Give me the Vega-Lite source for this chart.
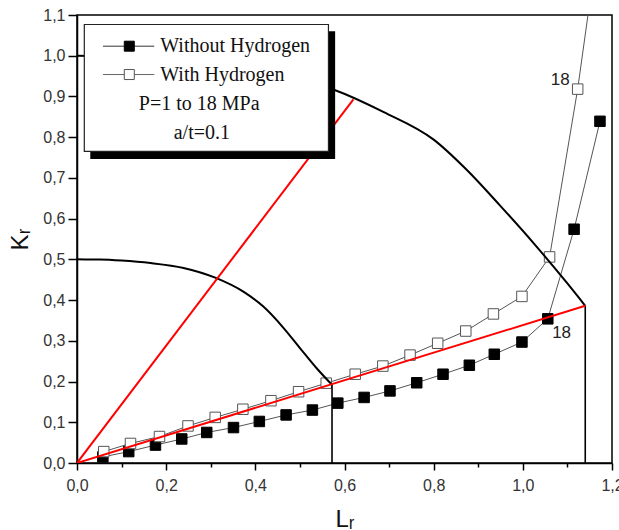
{
  "$schema": "https://vega.github.io/schema/vega-lite/v6.json",
  "autosize": {"type": "none"},
  "width": 535,
  "height": 448,
  "padding": {"left": 77, "top": 15, "right": 7, "bottom": 67},
  "background": "#ffffff",
  "config": {
    "view": {"stroke": "#000000", "strokeWidth": 1.5},
    "axis": {
      "grid": false,
      "domainColor": "#000000",
      "domainWidth": 1.5,
      "tickColor": "#000000",
      "tickWidth": 1.5,
      "labelColor": "#333333",
      "labelFont": "Liberation Sans",
      "labelFontSize": 16,
      "titleFont": "Liberation Sans",
      "titleFontSize": 24,
      "titleFontWeight": "normal",
      "titleColor": "#111111"
    }
  },
  "datasets": {
    "pts": [
      {"series": "Without Hydrogen", "P": 1, "Lr": 0.058, "Kr": 0.015},
      {"series": "Without Hydrogen", "P": 2, "Lr": 0.116, "Kr": 0.028},
      {"series": "Without Hydrogen", "P": 3, "Lr": 0.176, "Kr": 0.044},
      {"series": "Without Hydrogen", "P": 4, "Lr": 0.235, "Kr": 0.059},
      {"series": "Without Hydrogen", "P": 5, "Lr": 0.291, "Kr": 0.075},
      {"series": "Without Hydrogen", "P": 6, "Lr": 0.351, "Kr": 0.087},
      {"series": "Without Hydrogen", "P": 7, "Lr": 0.409, "Kr": 0.102},
      {"series": "Without Hydrogen", "P": 8, "Lr": 0.469, "Kr": 0.118},
      {"series": "Without Hydrogen", "P": 9, "Lr": 0.528, "Kr": 0.130},
      {"series": "Without Hydrogen", "P": 10, "Lr": 0.585, "Kr": 0.147},
      {"series": "Without Hydrogen", "P": 11, "Lr": 0.644, "Kr": 0.161},
      {"series": "Without Hydrogen", "P": 12, "Lr": 0.702, "Kr": 0.177},
      {"series": "Without Hydrogen", "P": 13, "Lr": 0.762, "Kr": 0.197},
      {"series": "Without Hydrogen", "P": 14, "Lr": 0.821, "Kr": 0.218},
      {"series": "Without Hydrogen", "P": 15, "Lr": 0.880, "Kr": 0.240},
      {"series": "Without Hydrogen", "P": 16, "Lr": 0.936, "Kr": 0.267},
      {"series": "Without Hydrogen", "P": 17, "Lr": 0.998, "Kr": 0.297},
      {"series": "Without Hydrogen", "P": 18, "Lr": 1.056, "Kr": 0.354},
      {"series": "Without Hydrogen", "P": 19, "Lr": 1.115, "Kr": 0.574},
      {"series": "Without Hydrogen", "P": 20, "Lr": 1.173, "Kr": 0.839},
      {"series": "With Hydrogen", "P": 1, "Lr": 0.060, "Kr": 0.028},
      {"series": "With Hydrogen", "P": 2, "Lr": 0.120, "Kr": 0.048},
      {"series": "With Hydrogen", "P": 3, "Lr": 0.185, "Kr": 0.065},
      {"series": "With Hydrogen", "P": 4, "Lr": 0.249, "Kr": 0.091},
      {"series": "With Hydrogen", "P": 5, "Lr": 0.310, "Kr": 0.112},
      {"series": "With Hydrogen", "P": 6, "Lr": 0.372, "Kr": 0.132},
      {"series": "With Hydrogen", "P": 7, "Lr": 0.435, "Kr": 0.153},
      {"series": "With Hydrogen", "P": 8, "Lr": 0.497, "Kr": 0.175},
      {"series": "With Hydrogen", "P": 9, "Lr": 0.559, "Kr": 0.196},
      {"series": "With Hydrogen", "P": 10, "Lr": 0.624, "Kr": 0.218},
      {"series": "With Hydrogen", "P": 11, "Lr": 0.686, "Kr": 0.238},
      {"series": "With Hydrogen", "P": 12, "Lr": 0.747, "Kr": 0.265},
      {"series": "With Hydrogen", "P": 13, "Lr": 0.809, "Kr": 0.294},
      {"series": "With Hydrogen", "P": 14, "Lr": 0.872, "Kr": 0.324},
      {"series": "With Hydrogen", "P": 15, "Lr": 0.934, "Kr": 0.366},
      {"series": "With Hydrogen", "P": 16, "Lr": 0.998, "Kr": 0.409},
      {"series": "With Hydrogen", "P": 17, "Lr": 1.060, "Kr": 0.506},
      {"series": "With Hydrogen", "P": 18, "Lr": 1.123, "Kr": 0.918},
      {"series": "With Hydrogen", "P": 19, "Lr": 1.185, "Kr": 1.406}
    ],
    "curves": [
      {"curve": "outer", "ord": 0, "Lr": 0.0, "Kr": 1.0},
      {"curve": "outer", "ord": 1, "Lr": 0.1, "Kr": 0.997},
      {"curve": "outer", "ord": 2, "Lr": 0.2, "Kr": 0.99},
      {"curve": "outer", "ord": 3, "Lr": 0.3, "Kr": 0.978},
      {"curve": "outer", "ord": 4, "Lr": 0.4, "Kr": 0.963},
      {"curve": "outer", "ord": 5, "Lr": 0.5, "Kr": 0.943},
      {"curve": "outer", "ord": 6, "Lr": 0.575, "Kr": 0.917},
      {"curve": "outer", "ord": 7, "Lr": 0.687, "Kr": 0.862},
      {"curve": "outer", "ord": 8, "Lr": 0.8, "Kr": 0.794},
      {"curve": "outer", "ord": 9, "Lr": 0.874, "Kr": 0.72},
      {"curve": "outer", "ord": 10, "Lr": 0.949, "Kr": 0.632},
      {"curve": "outer", "ord": 11, "Lr": 1.024, "Kr": 0.54},
      {"curve": "outer", "ord": 12, "Lr": 1.099, "Kr": 0.442},
      {"curve": "outer", "ord": 13, "Lr": 1.14, "Kr": 0.386},
      {"curve": "inner", "ord": 0, "Lr": 0.0, "Kr": 0.5},
      {"curve": "inner", "ord": 1, "Lr": 0.05, "Kr": 0.4995},
      {"curve": "inner", "ord": 2, "Lr": 0.1, "Kr": 0.497},
      {"curve": "inner", "ord": 3, "Lr": 0.165, "Kr": 0.491},
      {"curve": "inner", "ord": 4, "Lr": 0.239, "Kr": 0.479},
      {"curve": "inner", "ord": 5, "Lr": 0.31, "Kr": 0.455},
      {"curve": "inner", "ord": 6, "Lr": 0.374, "Kr": 0.42},
      {"curve": "inner", "ord": 7, "Lr": 0.418, "Kr": 0.384},
      {"curve": "inner", "ord": 8, "Lr": 0.463, "Kr": 0.332},
      {"curve": "inner", "ord": 9, "Lr": 0.501, "Kr": 0.281},
      {"curve": "inner", "ord": 10, "Lr": 0.538, "Kr": 0.232},
      {"curve": "inner", "ord": 11, "Lr": 0.572, "Kr": 0.192}
    ],
    "cuts": [
      {"Lr": 0.572, "Kr": 0.192},
      {"Lr": 1.14, "Kr": 0.386}
    ],
    "reds": [
      {"line": "steep", "Lr": 0.0, "Kr": 0.0},
      {"line": "steep", "Lr": 0.62, "Kr": 0.893},
      {"line": "shallow", "Lr": 0.0, "Kr": 0.0},
      {"line": "shallow", "Lr": 1.14, "Kr": 0.386}
    ],
    "labels": [
      {"label": "18", "Lr": 1.087, "Kr": 0.319},
      {"label": "18", "Lr": 1.084, "Kr": 0.94}
    ],
    "one": [{"k": 1}]
  },
  "layer": [
    {
      "data": {"name": "pts"},
      "mark": {"type": "line", "stroke": "#555555", "strokeWidth": 1, "clip": true},
      "encoding": {
        "x": {
          "field": "Lr",
          "type": "quantitative",
          "scale": {"domain": [0, 1.2], "nice": false, "zero": false},
          "axis": {
            "title": "Lᵣ",
            "titlePadding": 14,
            "values": [0, 0.1, 0.2, 0.3, 0.4, 0.5, 0.6, 0.7, 0.8, 0.9, 1.0, 1.1, 1.2],
            "labelExpr": "abs(datum.value*5 - round(datum.value*5)) < 0.001 ? replace(format(datum.value, '.1f'), '.', ',') : ''",
            "tickSize": {"condition": {"test": "abs(datum.value*5 - round(datum.value*5)) < 0.001", "value": 7}, "value": 4},
            "labelPadding": 7,
            "labelFlush": false,
            "labelOverlap": false
          }
        },
        "y": {
          "field": "Kr",
          "type": "quantitative",
          "scale": {"domain": [0, 1.1], "nice": false, "zero": false},
          "axis": {
            "title": "Kᵣ",
            "titlePadding": 10,
            "values": [0, 0.05, 0.1, 0.15, 0.2, 0.25, 0.3, 0.35, 0.4, 0.45, 0.5, 0.55, 0.6, 0.65, 0.7, 0.75, 0.8, 0.85, 0.9, 0.95, 1.0, 1.05, 1.1],
            "labelExpr": "abs(datum.value*10 - round(datum.value*10)) < 0.001 ? replace(format(datum.value, '.1f'), '.', ',') : ''",
            "tickSize": {"condition": {"test": "abs(datum.value*10 - round(datum.value*10)) < 0.001", "value": 9}, "value": 5},
            "labelPadding": 3,
            "labelFlush": false,
            "labelOverlap": false
          }
        },
        "detail": {"field": "series", "type": "nominal"},
        "order": {"field": "P", "type": "quantitative"}
      }
    },
    {
      "data": {"name": "pts"},
      "mark": {"type": "point", "shape": "square", "filled": true, "size": 110, "strokeWidth": 1, "opacity": 1, "clip": true},
      "encoding": {
        "x": {"field": "Lr", "type": "quantitative"},
        "y": {"field": "Kr", "type": "quantitative"},
        "fill": {"field": "series", "type": "nominal", "scale": {"domain": ["Without Hydrogen", "With Hydrogen"], "range": ["#000000", "#ffffff"]}, "legend": null},
        "stroke": {"field": "series", "type": "nominal", "scale": {"domain": ["Without Hydrogen", "With Hydrogen"], "range": ["#000000", "#555555"]}, "legend": null}
      }
    },
    {
      "data": {"name": "curves"},
      "mark": {"type": "line", "stroke": "#000000", "strokeWidth": 2, "clip": true, "interpolate": "monotone"},
      "encoding": {
        "x": {"field": "Lr", "type": "quantitative"},
        "y": {"field": "Kr", "type": "quantitative"},
        "detail": {"field": "curve", "type": "nominal"},
        "order": {"field": "ord", "type": "quantitative"}
      }
    },
    {
      "data": {"name": "cuts"},
      "mark": {"type": "rule", "stroke": "#000000", "strokeWidth": 1.6},
      "encoding": {
        "x": {"field": "Lr", "type": "quantitative"},
        "y": {"field": "Kr", "type": "quantitative"},
        "y2": {"datum": 0}
      }
    },
    {
      "data": {"name": "reds"},
      "mark": {"type": "line", "stroke": "#ff0000", "strokeWidth": 2, "clip": true},
      "encoding": {
        "x": {"field": "Lr", "type": "quantitative"},
        "y": {"field": "Kr", "type": "quantitative"},
        "detail": {"field": "line", "type": "nominal"}
      }
    },
    {
      "data": {"name": "labels"},
      "mark": {"type": "text", "font": "Liberation Sans", "fontSize": 17, "color": "#222222", "align": "center", "baseline": "middle"},
      "encoding": {
        "x": {"field": "Lr", "type": "quantitative"},
        "y": {"field": "Kr", "type": "quantitative"},
        "text": {"field": "label", "type": "nominal"}
      }
    },
    {
      "data": {"name": "one"},
      "mark": {"type": "rect", "fill": "#000000"},
      "encoding": {
        "x": {"datum": 0.0298, "type": "quantitative"},
        "x2": {"datum": 0.579},
        "y": {"datum": 1.0602, "type": "quantitative"},
        "y2": {"datum": 0.7466}
      }
    },
    {
      "data": {"name": "one"},
      "mark": {"type": "rect", "fill": "#ffffff", "stroke": "#222222", "strokeWidth": 1.2},
      "encoding": {
        "x": {"datum": 0.0164, "type": "quantitative"},
        "x2": {"datum": 0.564},
        "y": {"datum": 1.0767, "type": "quantitative"},
        "y2": {"datum": 0.7652}
      }
    },
    {
      "data": {"name": "one"},
      "mark": {"type": "rule", "stroke": "#333333", "strokeWidth": 1},
      "encoding": {
        "x": {"datum": 0.0583, "type": "quantitative"},
        "x2": {"datum": 0.1733},
        "y": {"datum": 1.0234, "type": "quantitative"}
      }
    },
    {
      "data": {"name": "one"},
      "mark": {"type": "rule", "stroke": "#666666", "strokeWidth": 1},
      "encoding": {
        "x": {"datum": 0.0583, "type": "quantitative"},
        "x2": {"datum": 0.1733},
        "y": {"datum": 0.9538, "type": "quantitative"}
      }
    },
    {
      "data": {"name": "one"},
      "mark": {"type": "point", "shape": "square", "filled": true, "fill": "#000000", "stroke": "#000000", "strokeWidth": 1, "size": 100, "opacity": 1},
      "encoding": {
        "x": {"datum": 0.1173, "type": "quantitative"},
        "y": {"datum": 1.0234, "type": "quantitative"}
      }
    },
    {
      "data": {"name": "one"},
      "mark": {"type": "point", "shape": "square", "filled": true, "fill": "#ffffff", "stroke": "#555555", "strokeWidth": 1, "size": 100, "opacity": 1},
      "encoding": {
        "x": {"datum": 0.1173, "type": "quantitative"},
        "y": {"datum": 0.9538, "type": "quantitative"}
      }
    },
    {
      "data": {"name": "one"},
      "mark": {"type": "text", "text": "Without Hydrogen", "font": "Liberation Serif", "fontSize": 20, "color": "#111111", "align": "left", "baseline": "middle"},
      "encoding": {
        "x": {"datum": 0.1868, "type": "quantitative"},
        "y": {"datum": 1.0234, "type": "quantitative"}
      }
    },
    {
      "data": {"name": "one"},
      "mark": {"type": "text", "text": "With Hydrogen", "font": "Liberation Serif", "fontSize": 20, "color": "#111111", "align": "left", "baseline": "middle"},
      "encoding": {
        "x": {"datum": 0.1868, "type": "quantitative"},
        "y": {"datum": 0.9538, "type": "quantitative"}
      }
    },
    {
      "data": {"name": "one"},
      "mark": {"type": "text", "text": "P=1 to 18 MPa", "font": "Liberation Serif", "fontSize": 20, "color": "#111111", "align": "center", "baseline": "middle"},
      "encoding": {
        "x": {"datum": 0.274, "type": "quantitative"},
        "y": {"datum": 0.881, "type": "quantitative"}
      }
    },
    {
      "data": {"name": "one"},
      "mark": {"type": "text", "text": "a/t=0.1", "font": "Liberation Serif", "fontSize": 20, "color": "#111111", "align": "center", "baseline": "middle"},
      "encoding": {
        "x": {"datum": 0.28, "type": "quantitative"},
        "y": {"datum": 0.811, "type": "quantitative"}
      }
    }
  ]
}
